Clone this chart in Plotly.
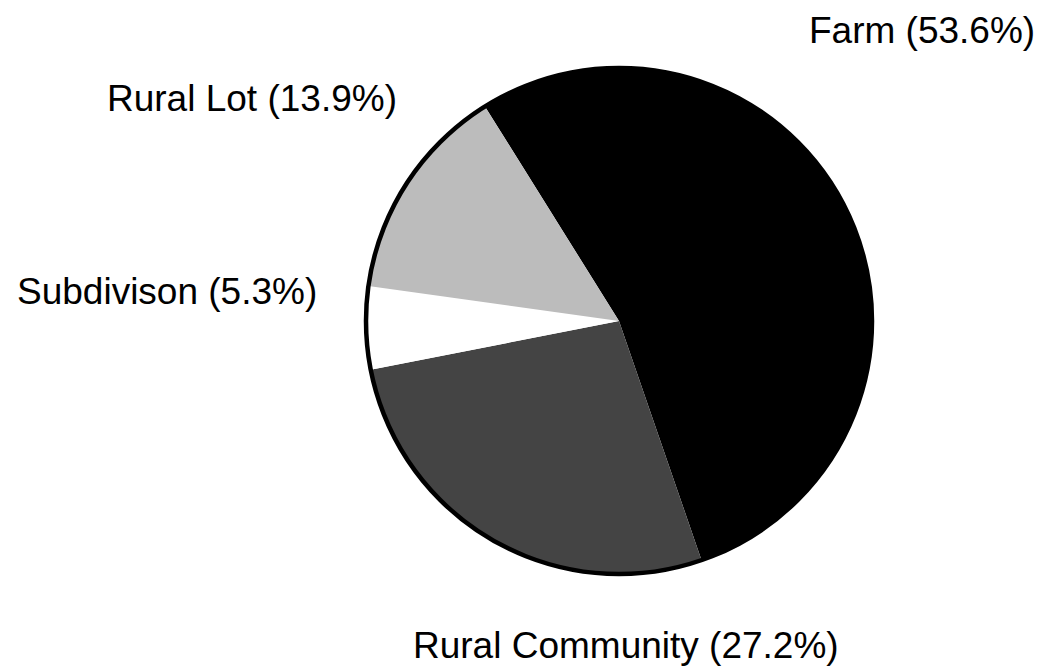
import plotly.graph_objects as go

labels = ["Farm", "Rural Community", "Subdivison", "Rural Lot"]
values = [53.6, 27.2, 5.3, 13.9]
colors = ["#000000", "#444444", "#ffffff", "#bcbcbc"]

W, H = 1043, 667
# label centres (figure pixels, from top-left)
label_px = [914, 618, 159, 243.5]
label_py = [23, 637, 283.5, 91]

cx, cy, r = 611, 313, 253

fig = go.Figure()
fig.add_trace(go.Pie(
    labels=labels,
    values=values,
    sort=False,
    direction="clockwise",
    rotation=-32,
    marker=dict(colors=colors, line=dict(width=0)),
    textinfo="none",
    hoverinfo="label+percent",
    showlegend=False,
    domain=dict(x=[(cx - r) / W, (cx + r) / W], y=[(H - cy - r) / H, (H - cy + r) / H]),
))

fig.add_shape(type="circle", xref="paper", yref="paper",
              x0=(cx - r) / W, x1=(cx + r) / W,
              y0=(H - cy - r) / H, y1=(H - cy + r) / H,
              line=dict(color="black", width=4.5))

for lab, val, px, py in zip(labels, values, label_px, label_py):
    fig.add_annotation(text=f"{lab} ({val}%)", x=px / W, y=1 - py / H, xref="paper", yref="paper",
                       xanchor="center", yanchor="middle", showarrow=False,
                       font=dict(family="Liberation Sans, Arial, sans-serif", size=37, color="black"))

fig.update_layout(width=W, height=H, margin=dict(l=0, r=0, t=0, b=0),
                  paper_bgcolor="white", plot_bgcolor="white")

fig.write_html("out.html")
